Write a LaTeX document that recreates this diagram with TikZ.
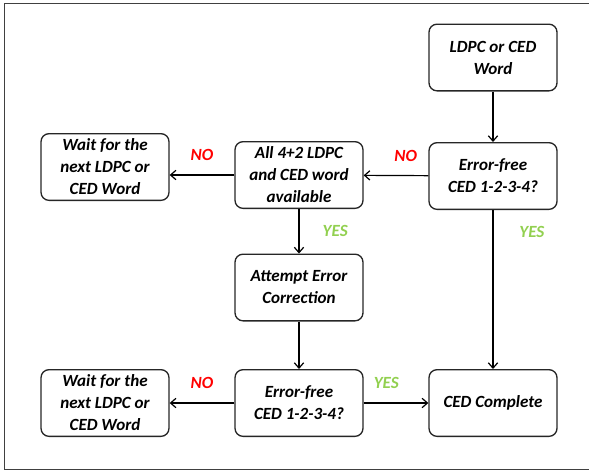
\documentclass[tikz,border=0pt]{standalone}
\usepackage{fontspec}
\setmainfont{Carlito}
\usetikzlibrary{calc}
\usetikzlibrary{positioning}
\usetikzlibrary{arrows.meta}

\definecolor{nored}{HTML}{FF0000}
\definecolor{yesgreen}{HTML}{92D050}

\tikzset{
  stepbox/.style={draw=black!85, line width=1pt, rounded corners=6pt,
    minimum width=96pt, minimum height=50pt, inner sep=3pt,
    align=center, font=\fontsize{12.8}{16.5}\selectfont\bfseries\itshape},
  flow/.style={-{Straight Barb[length=4pt,width=7pt]}, line width=0.9pt},
  nolabel/.style={text=nored, font=\fontsize{12.8}{14}\selectfont\bfseries\itshape},
  yeslabel/.style={text=yesgreen, font=\fontsize{12.8}{14}\selectfont\bfseries\itshape},
}

\begin{document}
\begin{tikzpicture}[x=0.75pt, y=-0.75pt]
            \useasboundingbox (0,0) rectangle (589,472);
            \draw[black!75, line width=1.2pt] (4.5,3.5) rectangle (600,469.5);

            \node[stepbox] (word) at (493,57.5) {LDPC or CED\\Word};
            \node[stepbox] (check) at (493,176) {Error-free\\CED 1-2-3-4?};
            \node[stepbox] (avail) at (299,175) {All 4+2 LDPC\\and CED word\\available};
            \node[stepbox] (wait) at (105,167) {Wait for the\\next LDPC or\\CED Word};
            \node[stepbox] (correct) at (299,287.5) {Attempt Error\\Correction};
            \node[stepbox] (recheck) at (299,403) {Error-free\\CED 1-2-3-4?};
            \node[stepbox] (waitnext) at (105,403) {Wait for the\\next LDPC or\\CED Word};
            \node[stepbox] (done) at (493,403) {CED Complete};

            \draw[flow] (word) -- (check);
            \draw[flow] (check) -- (avail) node [pos=0.35, above=7pt, nolabel] {NO};
            \draw[flow] (avail.west) -- (avail.west -| wait.east) node [midway, above=7pt, nolabel] {NO};
            \draw[flow] (avail) -- (correct) node [midway, right=14pt, yeslabel] {YES};
            \draw[flow] (check) -- (done) node [pos=0.14, right=16pt, yeslabel] {YES};
            \draw[flow] (correct) -- (recheck);
            \draw[flow] (recheck) -- (waitnext) node [midway, above=7pt, nolabel] {NO};
            \draw[flow] (recheck) -- (done) node [pos=0.35, above=7pt, yeslabel] {YES};
        \end{tikzpicture}
\end{document}
